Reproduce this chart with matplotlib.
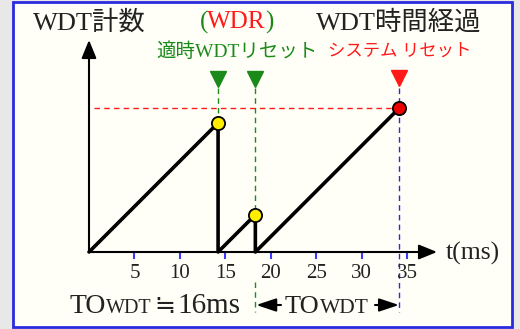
import matplotlib
matplotlib.use("Agg")
import matplotlib.pyplot as plt
from matplotlib.patches import Rectangle

plt.rcParams['font.family'] = ['Liberation Serif', 'Noto Sans CJK JP', 'DejaVu Sans']

# ---- data ----
wdr_times = [14.2, 18.3]            # WDR (watchdog refresh) times, ms
sys_reset_time = 34.1               # system reset (timeout) time, ms
ramp_t = [0, 14.2, 14.2, 18.3, 18.3, 34.1]
ramp_count = [0, 14.2, 0, 4.1, 0, 15.8]
wdr_counts = [14.2, 4.1]
timeout_count = 15.8
xticks = [5, 10, 15, 20, 25, 30, 35]
xtick_labels = ['5', '10', '15', '20', '25', '30', '35']

GREEN = '#1a8a1a'
RED = '#ff1a1a'
BLUE = '#2a2ae0'
TICKBLUE = '#3a3aff'
BG = '#fffff7'
INK = '#222222'

W, H = 520, 329
fig = plt.figure(figsize=(W / 100, H / 100), dpi=100)
fig.patch.set_facecolor('#e8e8e8')
ax = fig.add_axes([0, 0, 1, 1])
ax.set_axis_off()

# pixel scale: origin at (89, 252) px, 9.09 px per ms (same for count)
s = 9.09
x0, y0 = 89, 252
ax.set_xlim(-x0 / s, (W - x0) / s)
ax.set_ylim(-(H - y0) / s, y0 / s)


def px(x):
    return (x - x0) / s


def py(y):
    return (y0 - y) / s


# panel background + border
ax.add_patch(Rectangle((13 / W, 2 / H), (512 - 13) / W, (327 - 2) / H,
                       transform=fig.transFigure, facecolor=BG, clip_on=False,
                       edgecolor=BLUE, linewidth=2, zorder=0))

# axes arrows
arrow_kw = dict(arrowstyle='-|>,head_length=1.1,head_width=0.45', color='black',
                lw=1.5, mutation_scale=10, shrinkA=0, shrinkB=0)
ax.annotate('', xy=(0, py(40)), xytext=(0, 0), arrowprops=arrow_kw)
ax.annotate('', xy=(px(437), 0), xytext=(0, 0), arrowprops=arrow_kw)

# ticks
for t, lab in zip(xticks, xtick_labels):
    ax.plot([t, t], [0, -0.7], color=TICKBLUE, lw=1.5, zorder=2)
    ax.text(t, py(273), lab, ha='center', va='center', fontsize=15, color=INK)
ax.text(px(446), py(253), 't(ms)', ha='left', va='center', fontsize=18.5, color=INK)

# threshold dashed line
ax.plot([0.6, 34.8], [timeout_count, timeout_count], color=RED, lw=1, ls=(0, (4, 3)), zorder=2)

# WDR guide lines
trig_y = py(79)
for t, c in zip(wdr_times, wdr_counts):
    ax.plot([t, t], [trig_y - 1, c], color=GREEN, lw=1, ls=(0, (4, 3)), zorder=2)
    ax.plot([t], [trig_y], marker='v', ms=11, color=GREEN, zorder=4)
ax.plot([wdr_times[1]] * 2, [py(282), py(312)], color=GREEN, lw=1, ls=(0, (4, 3)), zorder=2)

# system reset guide
ax.plot([sys_reset_time] * 2, [trig_y - 1, py(312)], color=BLUE, lw=1, ls=(0, (4, 3)), zorder=2)
ax.plot([sys_reset_time], [py(78)], marker='v', ms=11, color=RED, zorder=4)

# sawtooth count
ax.plot(ramp_t, ramp_count, color='black', lw=2.6, solid_capstyle='round',
        solid_joinstyle='round', zorder=3)
ax.plot(wdr_times, wdr_counts, 'o', ms=9.5, mfc='#ffee00', mec='black', mew=1.3, zorder=5)
ax.plot([sys_reset_time], [timeout_count], 'o', ms=9.5, mfc='#ee0000', mec='black', mew=1.3, zorder=5)

# top labels
ax.text(px(89), py(22), 'WDT計数', ha='center', va='center', fontsize=19, color=INK)
ax.text(px(398.5), py(22), 'WDT時間経過', ha='center', va='center', fontsize=19, color=INK)
ax.text(px(200), py(22), '(', ha='left', va='center', fontsize=18, color=GREEN)
ax.text(px(236.5), py(22), 'WDR', ha='center', va='center', fontsize=18, color=RED)
ax.text(px(274), py(22), ')', ha='right', va='center', fontsize=18, color=GREEN)
ax.text(px(236.5), py(52), '適時WDTリセット', ha='center', va='center', fontsize=14, color=GREEN)
ax.text(px(399.5), py(52), 'システム リセット', ha='center', va='center', fontsize=12.5, color=RED)

# bottom annotations (pieces placed one after another)
renderer = fig.canvas.get_renderer()
base = py(313)


def run_text(x_px, pieces):
    x = x_px
    for txt, size, fam, gap in pieces:
        kw = {} if fam is None else {'family': fam}
        t = ax.text(px(x), base, txt, ha='left', va='baseline', fontsize=size,
                    color=INK, **kw)
        bb = t.get_window_extent(renderer)
        x = x + bb.width + gap


run_text(70, [('TO', 20, None, 0), ('WDT', 14.5, None, 2),
              ('≒', 18, ['DejaVu Sans'], 2), ('16ms', 21, None, 0)])
run_text(285, [('TO', 19, None, 0), ('WDT', 15.5, None, 0)])

arr_kw = dict(arrowstyle='-|>,head_length=1.2,head_width=0.4', color='black', lw=1.5,
              mutation_scale=10, shrinkA=0, shrinkB=0)
ay = py(305)
ax.annotate('', xy=(wdr_times[1] + 0.1, ay), xytext=(px(281), ay), arrowprops=arr_kw)
ax.annotate('', xy=(sys_reset_time, ay), xytext=(px(375), ay), arrowprops=arr_kw)

fig.savefig('out.png', dpi=100, facecolor=fig.get_facecolor())
